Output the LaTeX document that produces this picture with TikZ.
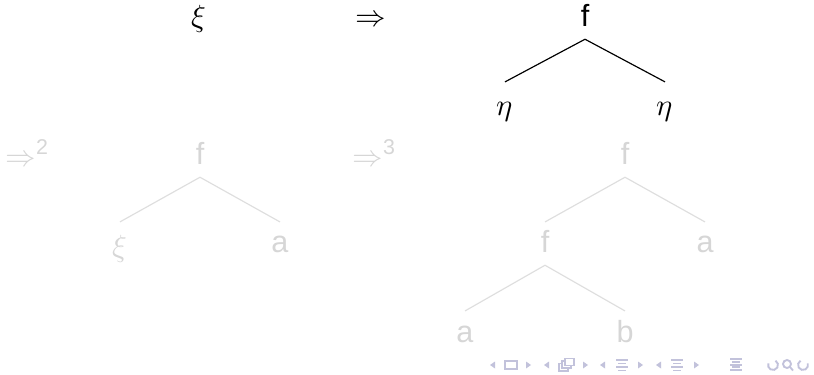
\documentclass[tikz,border=0pt]{standalone}
\usepackage{fontspec}
\setmainfont{Liberation Sans}
\setsansfont{Liberation Sans}
\usepackage{unicode-math}
\setmathfont{Latin Modern Math}
\setmathfont[range=up/{num}]{Liberation Sans}
\definecolor{fade}{gray}{0.84}
\definecolor{fadeline}{gray}{0.87}
\definecolor{navc}{rgb}{0.76,0.76,0.86}
\begin{document}
\begin{tikzpicture}[x=0.425pt,y=-0.425pt,
  tn/.style={inner sep=0pt,text height=13pt,text depth=5pt,anchor=base,font=\fontsize{13}{15}\selectfont},
  tlow/.style={text height=14.3pt},
  lab/.style={inner sep=0pt,anchor=base west,font=\fontsize{13}{15}\selectfont},
  edge/.style={line width=0.5pt},
  faded/.style={text=fade},
  fedge/.style={line width=0.5pt,draw=fadeline},
  navtri/.style={fill=navc,draw=none}]
\useasboundingbox (0,0) rectangle (814,375);
% top row
\node[tn] (xi) at (199,27) {$\xi$};
\node[lab] (impl1) at (355,27) {$\Rightarrow$};
\node[tn] (f1) at (585,27) {f};
\node[tn,tlow] (e1) at (505,116) {$\eta$};
\node[tn,tlow] (e2) at (665,116) {$\eta$};
\draw[edge] (f1.south) -- (e1.north);
\draw[edge] (f1.south) -- (e2.north);
% second step
\node[lab,faded] (impl2) at (5,166) {$\Rightarrow^{2}$};
\node[tn,faded] (f2) at (200,165) {f};
\node[tn,faded,tlow] (x2) at (120,256) {$\xi$};
\node[tn,faded] (a2) at (280,253) {a};
\draw[fedge] (f2.south) -- (x2.north);
\draw[fedge] (f2.south) -- (a2.north);
% third step
\node[lab,faded] (impl3) at (352,166) {$\Rightarrow^{3}$};
\node[tn,faded] (f3) at (625,165) {f};
\node[tn,faded] (f4) at (545,253) {f};
\node[tn,faded] (a3) at (705,253) {a};
\node[tn,faded] (a4) at (465,342) {a};
\node[tn,faded] (b4) at (625,342) {b};
\draw[fedge] (f3.south) -- (f4.north);
\draw[fedge] (f3.south) -- (a3.north);
\draw[fedge] (f4.south) -- (a4.north);
\draw[fedge] (f4.south) -- (b4.north);
% navigation symbols
\begin{scope}[navtri]
\fill (490,365) -- (495,361.5) -- (495,368.5) -- cycle;
\draw[navc,line width=0.6pt] (505,361) rectangle (517,369);
\fill (531,365) -- (526,361.5) -- (526,368.5) -- cycle;
\fill (544,365) -- (549,361.5) -- (549,368.5) -- cycle;
\draw[navc,line width=0.6pt,fill=white] (559,363.5) rectangle (568,371);
\draw[navc,line width=0.6pt,fill=white] (562,361) rectangle (571,368);
\draw[navc,line width=0.6pt,fill=white] (565,358.5) rectangle (574,365.5);
\fill (588,365) -- (583,361.5) -- (583,368.5) -- cycle;
\fill (600,365) -- (605,361.5) -- (605,368.5) -- cycle;
\fill (643,365) -- (638,361.5) -- (638,368.5) -- cycle;
\fill (656,365) -- (661,361.5) -- (661,368.5) -- cycle;
\fill (699,365) -- (694,361.5) -- (694,368.5) -- cycle;
\end{scope}
\begin{scope}[navc,line width=0.8pt]
\draw (616,360) -- (628,360); \draw (618,363.5) -- (626,363.5);
\draw (616,367) -- (628,367); \draw (618,370.5) -- (626,370.5);
\draw (671,360) -- (683,360); \draw (673,363.5) -- (681,363.5);
\draw (671,367) -- (683,367); \draw (673,370.5) -- (681,370.5);
\draw (730,359) -- (742,359); \draw (732,361.8) -- (740,361.8);
\draw (730,364.6) -- (742,364.6); \draw (732,367.4) -- (740,367.4);
\draw (730,370.2) -- (742,370.2);
\draw ([shift={(-60:5)}]773,365) arc[start angle=-60,end angle=200,radius=5];
\draw (787,364) circle[radius=4]; \draw (790,367) -- (793,370.5);
\draw ([shift={(240:5)}]803,365) arc[start angle=240,end angle=-20,radius=5];
\end{scope}
\end{tikzpicture}
\end{document}
